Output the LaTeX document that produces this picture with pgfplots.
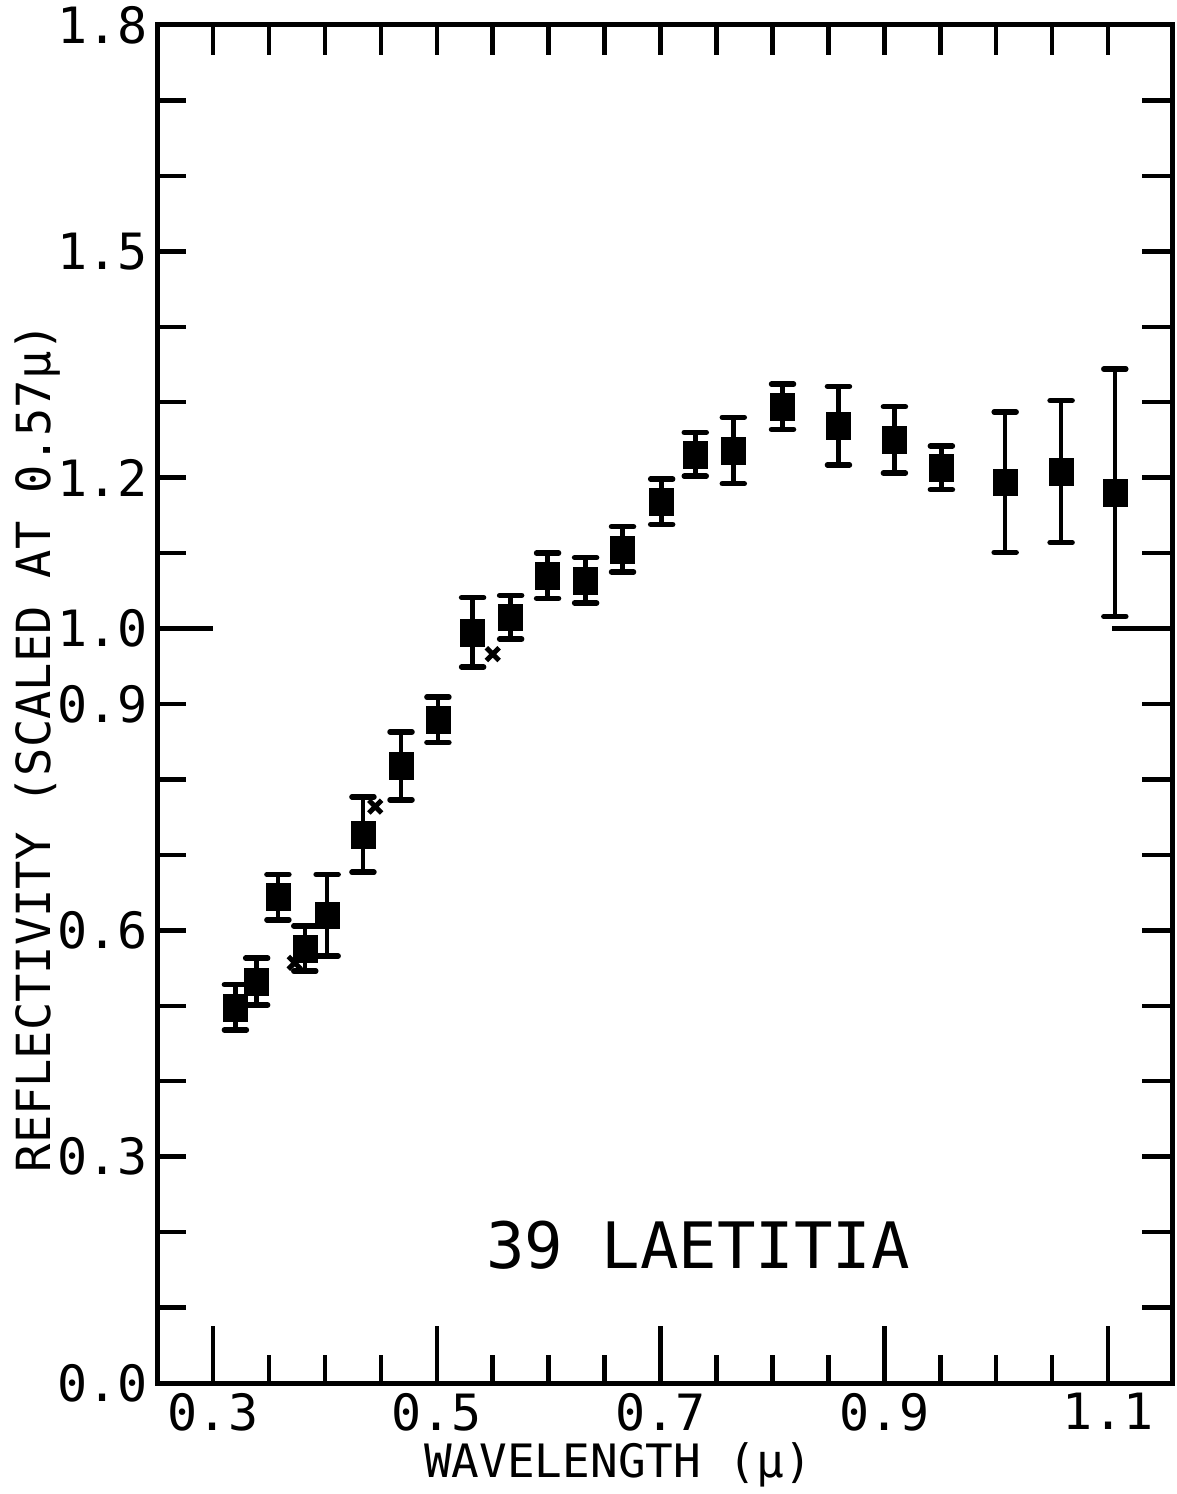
\documentclass[border=0pt]{standalone}
\usepackage{pgfplots}
\pgfplotsset{compat=1.18}
\usepackage{fontspec}
\setmainfont{DejaVu Sans Mono}
\pgfplotstableread{
x y e
0.320 0.498 0.030
0.339 0.532 0.031
0.358 0.644 0.030
0.382 0.576 0.030
0.402 0.620 0.054
0.434 0.727 0.050
0.468 0.818 0.045
0.501 0.879 0.030
0.532 0.995 0.046
0.566 1.015 0.029
0.599 1.070 0.030
0.633 1.064 0.030
0.666 1.105 0.030
0.701 1.168 0.030
0.731 1.231 0.029
0.765 1.236 0.044
0.809 1.294 0.030
0.859 1.269 0.052
0.909 1.250 0.044
0.951 1.213 0.029
1.008 1.194 0.093
1.058 1.208 0.094
1.106 1.180 0.164
}\maindata
\pgfplotstableread{
x y
0.373 0.557
0.445 0.764
0.550 0.966
}\crossdata
\begin{document}
\begin{tikzpicture}
\useasboundingbox (-158pt,-111pt) rectangle (1019pt,1383pt);
\begin{axis}[
 scale only axis, width=1014pt, height=1358pt,
 at={(0pt,0pt)}, anchor=south west,
 xmin=0.2508, xmax=1.1572, ymin=0, ymax=1.8,
 tick style={draw=none}, major tick length=0pt, minor tick length=0pt,
 xtick={0.3,0.5,0.7,0.9,1.1}, xticklabels={0.3,0.5,0.7,0.9,1.1},
 ytick={0,0.3,0.6,0.9,1.0,1.2,1.5,1.8},
 yticklabels={0.0,0.3,0.6,0.9,1.0,1.2,1.5,1.8},
 ticklabel style={font=\fontsize{50}{50}\selectfont, inner sep=0pt},
 xticklabel style={anchor=north, yshift=-10pt},
 yticklabel style={anchor=east, xshift=-10pt},
 clip=false,
]
% frame
\draw[line width=5pt] (rel axis cs:0,0) rectangle (rel axis cs:1,1);
% bottom ticks
\pgfplotsinvokeforeach{0.3,0.5,0.7,0.9,1.1}{\draw[line width=4.5pt] (axis cs:#1,0) -- ++(0pt,57pt);}
\pgfplotsinvokeforeach{0.35,0.4,0.45,0.55,0.6,0.65,0.75,0.8,0.85,0.95,1.0,1.05}{\draw[line width=4.5pt] (axis cs:#1,0) -- ++(0pt,28pt);}
% top ticks
\pgfplotsinvokeforeach{0.3,0.35,0.4,0.45,0.5,0.55,0.6,0.65,0.7,0.75,0.8,0.85,0.9,0.95,1.0,1.05,1.1}{\draw[line width=4.5pt] (axis cs:#1,1.8) -- ++(0pt,-30pt);}
% left and right ticks
\pgfplotsinvokeforeach{0.1,0.2,0.3,0.4,0.5,0.6,0.7,0.8,0.9,1.1,1.2,1.3,1.4,1.5,1.6,1.7}{
 \draw[line width=4.5pt] (axis cs:0.2508,#1) -- ++(28pt,0pt);
 \draw[line width=4.5pt] (axis cs:1.1572,#1) -- ++(-30pt,0pt);}
\draw[line width=4.5pt] (axis cs:0.2508,1.0) -- ++(55pt,0pt);
\draw[line width=4.5pt] (axis cs:1.1572,1.0) -- ++(-60pt,0pt);

\addplot[only marks, black, mark=square*, mark size=12pt,
  mark options={yscale=1.12, rounded corners=2pt},
  error bars/.cd, y dir=both, y explicit,
  error bar style={line width=4.5pt},
  error mark options={rotate=90, line width=5.5pt, mark size=11pt, line cap=round}]
  table[x=x, y=y, y error=e] {\maindata};
\addplot[only marks, black, mark=x, mark size=9pt, mark options={line width=5pt}]
  table[x=x, y=y] {\crossdata};

\node[font=\fontsize{46}{46}\selectfont] at (axis cs:0.662,-0.109) {WAVELENGTH (μ)};
\node[font=\fontsize{47}{47}\selectfont, rotate=90] at (axis cs:0.1436,0.842) {REFLECTIVITY (SCALED AT 0.57μ)};
\node[font=\fontsize{64}{64}\selectfont] at (axis cs:0.7335,0.183) {39 LAETITIA};
\end{axis}
\end{tikzpicture}
\end{document}
